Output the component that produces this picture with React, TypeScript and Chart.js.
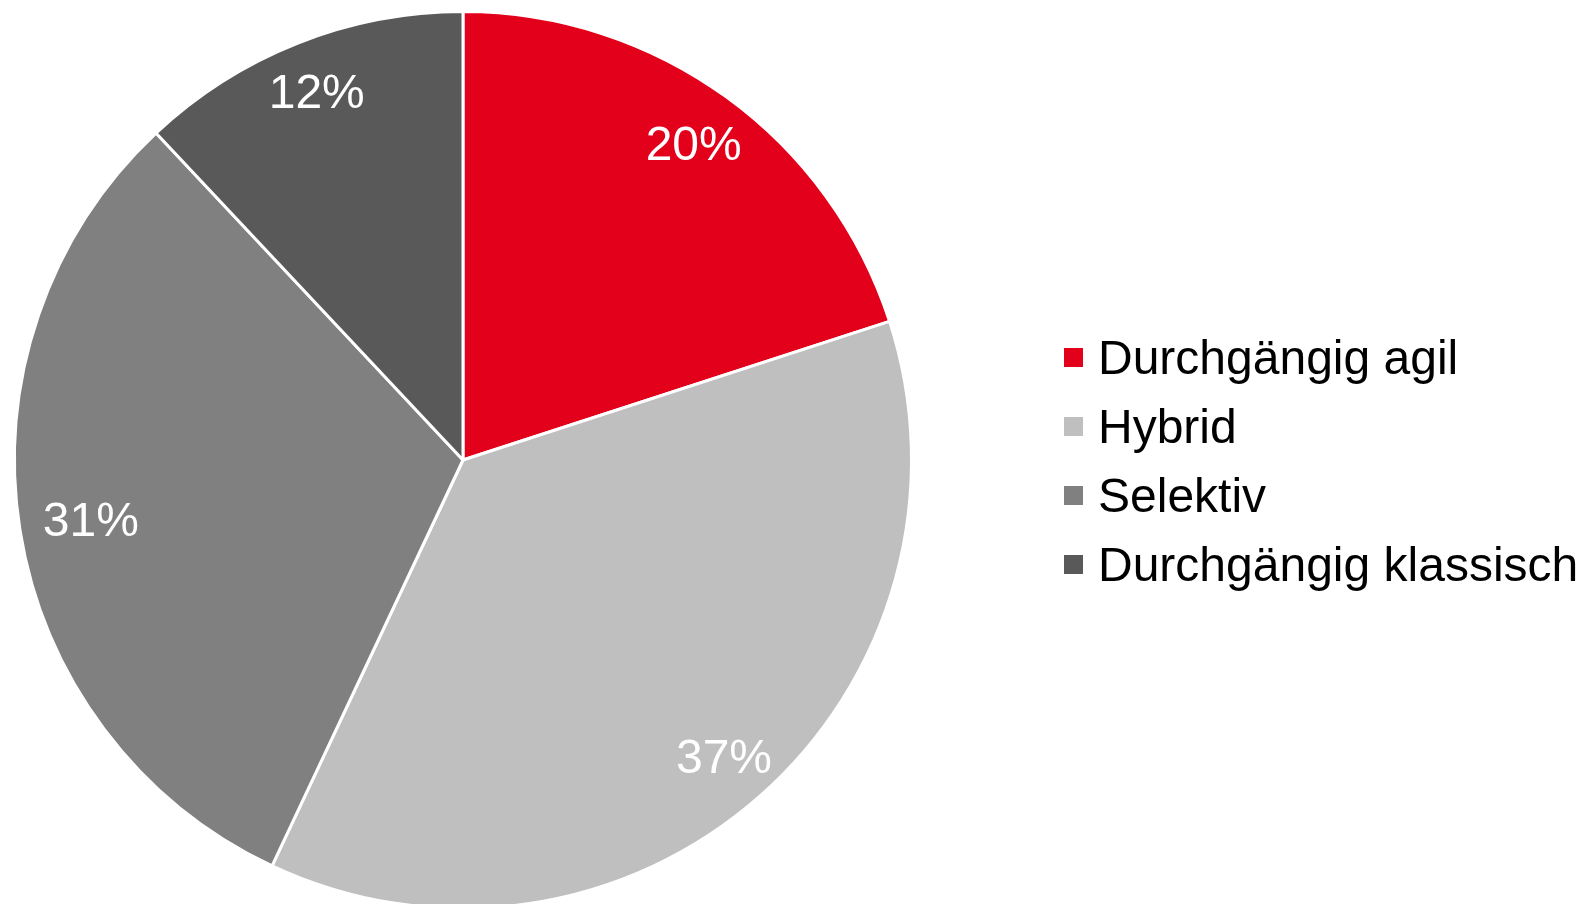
import React, { useEffect, useRef } from "react";
import { Chart, registerables } from "chart.js";

Chart.register(...registerables);

const categories = ["Durchgängig agil", "Hybrid", "Selektiv", "Durchgängig klassisch"];
const shares = [20, 37, 31, 12];
const sliceColors = ["#E2001A", "#BFBFBF", "#808080", "#595959"];

const FONT = '"Liberation Sans", Arial, sans-serif';

const labelPlugin = {
  id: "sliceLabels",
  afterDatasetsDraw(chart: any) {
    const ctx = chart.ctx;
    const meta = chart.getDatasetMeta(0);
    const fr = [0.875, 0.88, 0.84, 0.886];
    ctx.save();
    ctx.font = `48px ${FONT}`;
    ctx.fillStyle = "#FFFFFF";
    ctx.textAlign = "center";
    ctx.textBaseline = "middle";
    meta.data.forEach((arc: any, i: number) => {
      const p = arc.getProps(["x", "y", "startAngle", "endAngle", "outerRadius"], true);
      const mid = (p.startAngle + p.endAngle) / 2;
      const r = p.outerRadius * fr[i];
      const x = p.x + Math.cos(mid) * r;
      const y = p.y + Math.sin(mid) * r + 4;
      ctx.fillText(`${chart.data.datasets[0].data[i]}%`, x, y);
    });
    ctx.restore();
  },
};

const legendPlugin = {
  id: "customLegend",
  afterDraw(chart: any) {
    const ctx = chart.ctx;
    const labels = chart.data.labels as string[];
    const colors = chart.data.datasets[0].backgroundColor as string[];
    ctx.save();
    ctx.font = `48px ${FONT}`;
    ctx.textAlign = "left";
    ctx.textBaseline = "alphabetic";
    labels.forEach((lab, i) => {
      const cy = 357.5 + i * 69;
      ctx.fillStyle = colors[i];
      ctx.fillRect(1064, cy - 9.5, 19, 19);
      ctx.fillStyle = "#000000";
      ctx.fillText(lab, 1098, cy + 16);
    });
    ctx.restore();
  },
};

export default function App() {
  const ref = useRef<HTMLCanvasElement | null>(null);
  useEffect(() => {
    if (!ref.current) return;
    const chart = new Chart(ref.current, {
      type: "pie",
      data: {
        labels: categories,
        datasets: [
          {
            data: shares,
            backgroundColor: sliceColors,
            borderColor: "#FFFFFF",
            borderWidth: 3,
          },
        ],
      },
      options: {
        responsive: false,
        animation: false,
        layout: { padding: { left: 13, top: 10, right: 672, bottom: 10 } },
        plugins: {
          legend: { display: false },
          tooltip: { enabled: false },
        },
      },
      plugins: [labelPlugin, legendPlugin],
    });
    return () => chart.destroy();
  }, []);
  return (
    <div
      style={{
        position: "fixed",
        left: 0,
        top: 0,
        width: 1585,
        height: 904,
        overflow: "hidden",
        background: "#FFFFFF",
      }}
    >
      <canvas ref={ref} width={1585} height={920} style={{ display: "block" }} />
    </div>
  );
}
